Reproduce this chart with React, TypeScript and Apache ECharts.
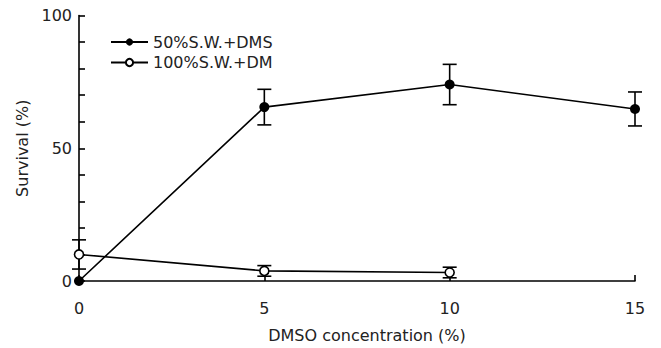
import React, { useEffect, useRef } from "react";
import * as echarts from "echarts";

const concentrations = [0, 5, 10, 15];
const survival50 = [0, 65.5, 74, 64.8];
const error50 = [0, 6.7, 7.6, 6.4];
const concentrations100 = [0, 5, 10];
const survival100 = [10, 3.8, 3.2];
const error100 = [5.5, 2, 2];
const seriesNames = ["50%S.W.+DMS", "100%S.W.+DM"];
const yLabelValues = [0, 50, 100];

const FONT = "DejaVu Sans";
const TEXT = "#222";
const FS = 16;

function errorBarSeries(xs: number[], ys: number[], es: number[]) {
  const data = xs
    .map((x, i) => [x, ys[i] - es[i], ys[i] + es[i]])
    .filter((d, i) => es[i] > 0);
  return {
    type: "custom",
    silent: true,
    z: 3,
    data,
    renderItem: (params: any, api: any) => {
      const x = api.value(0);
      const lo = api.coord([x, api.value(1)]);
      const hi = api.coord([x, api.value(2)]);
      const cap = 7;
      const style = { stroke: "#000", lineWidth: 1.6 };
      return {
        type: "group",
        children: [
          { type: "line", shape: { x1: lo[0], y1: lo[1], x2: hi[0], y2: hi[1] }, style },
          { type: "line", shape: { x1: hi[0] - cap, y1: hi[1], x2: hi[0] + cap, y2: hi[1] }, style },
          { type: "line", shape: { x1: lo[0] - cap, y1: lo[1], x2: lo[0] + cap, y2: lo[1] }, style },
        ],
      };
    },
  };
}

export default function App() {
  const ref = useRef<HTMLDivElement>(null);
  useEffect(() => {
    const chart = echarts.init(ref.current!, null, { renderer: "svg" });
    chart.setOption({
      animation: false,
      backgroundColor: "#fff",
      grid: { left: 79, right: 26, top: 15.5, bottom: 66 },
      legend: {
        orient: "vertical",
        left: 110,
        top: 33.5,
        padding: 0,
        itemWidth: 37,
        itemHeight: 9,
        itemGap: 3.5,
        textStyle: { fontFamily: FONT, fontSize: FS, color: TEXT, lineHeight: 17 },
        data: seriesNames,
      },
      xAxis: {
        type: "value",
        min: 0,
        max: 15,
        interval: 5,
        name: "DMSO concentration (%)",
        nameLocation: "middle",
        nameGap: 46,
        nameTextStyle: { fontFamily: FONT, fontSize: FS, color: TEXT, padding: [0, 0, 0, 20] },
        axisLine: { lineStyle: { color: "#000", width: 1.6 } },
        axisTick: { inside: true, length: 6, lineStyle: { color: "#000", width: 1.6 } },
        axisLabel: { fontFamily: FONT, fontSize: FS, color: TEXT, margin: 19 },
        splitLine: { show: false },
      },
      yAxis: {
        type: "value",
        min: 0,
        max: 100,
        interval: 10,
        name: "Survival (%)",
        nameLocation: "middle",
        nameGap: 48,
        nameTextStyle: { fontFamily: FONT, fontSize: FS, color: TEXT },
        axisLine: { show: true, lineStyle: { color: "#000", width: 1.6 } },
        axisTick: { show: true, inside: true, length: 6, lineStyle: { color: "#000", width: 1.6 } },
        axisLabel: {
          fontFamily: FONT,
          fontSize: FS,
          color: TEXT,
          margin: 7,
          formatter: (v: number) => (yLabelValues.includes(v) ? String(v) : ""),
        },
        splitLine: { show: false },
      },
      series: [
        errorBarSeries(concentrations, survival50, error50),
        errorBarSeries(concentrations100, survival100, error100),
        {
          name: seriesNames[0],
          type: "line",
          z: 4,
          data: concentrations.map((x, i) => [x, survival50[i]]),
          symbol: "circle",
          symbolSize: 10,
          lineStyle: { color: "#000", width: 1.6 },
          itemStyle: { color: "#000" },
        },
        {
          name: seriesNames[1],
          type: "line",
          z: 5,
          data: concentrations100.map((x, i) => [x, survival100[i]]),
          symbol: "circle",
          symbolSize: 9,
          lineStyle: { color: "#000", width: 1.6 },
          itemStyle: { color: "#fff", borderColor: "#000", borderWidth: 1.6 },
        },
      ],
    });
    return () => chart.dispose();
  }, []);
  return (
    <div
      ref={ref}
      style={{ position: "fixed", left: 0, top: 0, width: 661, height: 348 }}
    />
  );
}
